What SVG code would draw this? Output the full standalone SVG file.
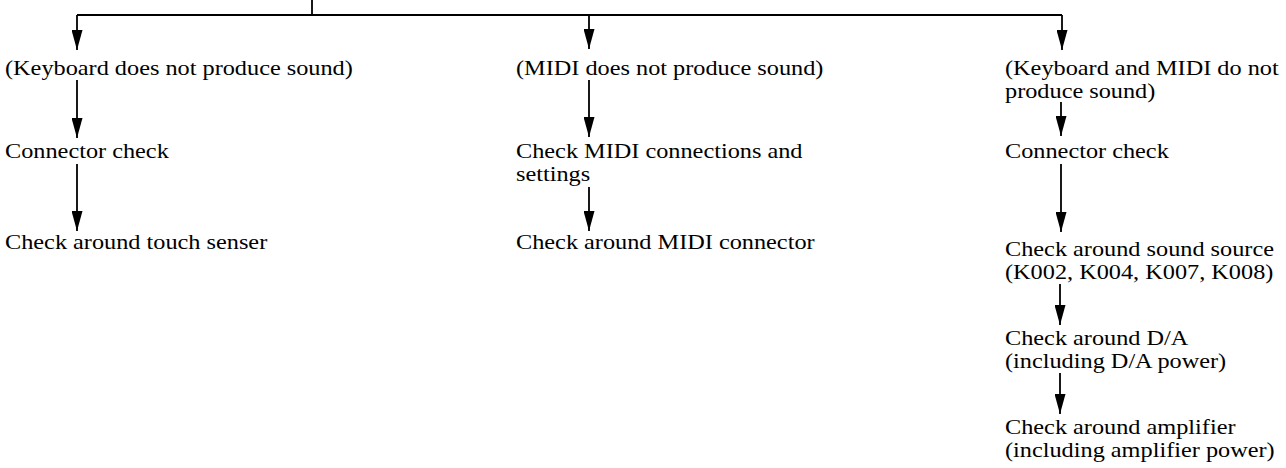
<svg xmlns="http://www.w3.org/2000/svg" width="1286" height="468" viewBox="0 0 1286 468">
<style>
text { font-family: "Liberation Serif", "Times New Roman", serif; font-size: 21px; fill: #000; }
.c { stroke: #000; stroke-width: 1.8; fill: none; }
</style>
<defs>
<marker id="ah" viewBox="0 0 20 11" refX="20" refY="5.5" markerWidth="20" markerHeight="11" markerUnits="userSpaceOnUse" orient="auto">
<path d="M0,0 L20,5.5 L0,11 z" fill="#000"/>
</marker>
</defs>
<g id="connectors">
<path class="c" d="M312,0 V15 M77,15 H1062"/>
<path class="c" d="M77,15 V50" marker-end="url(#ah)"/>
<path class="c" d="M589,15 V49" marker-end="url(#ah)"/>
<path class="c" d="M1062,15 V50" marker-end="url(#ah)"/>
<path class="c" d="M77,80 V138" marker-end="url(#ah)"/>
<path class="c" d="M77,164 V231" marker-end="url(#ah)"/>
<path class="c" d="M589,80 V137" marker-end="url(#ah)"/>
<path class="c" d="M589,187 V231" marker-end="url(#ah)"/>
<path class="c" d="M1061,102 V136" marker-end="url(#ah)"/>
<path class="c" d="M1061,164 V232" marker-end="url(#ah)"/>
<path class="c" d="M1060,284 V325" marker-end="url(#ah)"/>
<path class="c" d="M1060,373 V414" marker-end="url(#ah)"/>
</g>
<g id="n1"><text transform="translate(5,75) scale(1.157,1)">(Keyboard does not produce sound)</text></g>
<g id="n2"><text transform="translate(5,158) scale(1.157,1)">Connector check</text></g>
<g id="n3"><text transform="translate(5,249) scale(1.157,1)">Check around touch senser</text></g>
<g id="n4"><text transform="translate(516,75) scale(1.157,1)">(MIDI does not produce sound)</text></g>
<g id="n5"><text transform="translate(516,158) scale(1.157,1)">Check MIDI connections and</text><text transform="translate(516,181) scale(1.157,1)">settings</text></g>
<g id="n6"><text transform="translate(516,249) scale(1.157,1)">Check around MIDI connector</text></g>
<g id="n7"><text transform="translate(1005,75) scale(1.157,1)">(Keyboard and MIDI do not</text><text transform="translate(1005,98) scale(1.157,1)">produce sound)</text></g>
<g id="n8"><text transform="translate(1005,158) scale(1.157,1)">Connector check</text></g>
<g id="n9"><text transform="translate(1005,256) scale(1.157,1)">Check around sound source</text><text transform="translate(1005,279) scale(1.157,1)">(K002, K004, K007, K008)</text></g>
<g id="n10"><text transform="translate(1005,345) scale(1.157,1)">Check around D/A</text><text transform="translate(1005,368) scale(1.157,1)">(including D/A power)</text></g>
<g id="n11"><text transform="translate(1005,434) scale(1.157,1)">Check around amplifier</text><text transform="translate(1005,457) scale(1.157,1)">(including amplifier power)</text></g>
</svg>
